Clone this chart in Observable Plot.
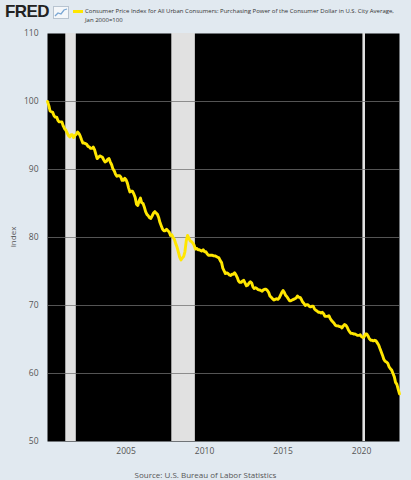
<!DOCTYPE html>
<html><head><meta charset="utf-8">
<script src="https://cdn.jsdelivr.net/npm/d3@7"></script>
<script src="https://cdn.jsdelivr.net/npm/@observablehq/plot@0.6"></script>
<style>
html,body{margin:0;padding:0;background:#e1e9f0;}
#wrap{position:relative;width:411px;height:480px;overflow:hidden;font-family:"Open Sans",sans-serif;background:#e1e9f0;}
#logo{position:absolute;left:5px;top:1px;font-family:"Liberation Sans",Arial,sans-serif;font-weight:900;font-size:17px;color:#222;letter-spacing:-0.6px;line-height:22px;}
#logo svg{position:absolute;left:48px;top:5px;}
#swatch{position:absolute;left:73px;top:10px;width:10px;height:3px;background:#ffe600;}
#legend{position:absolute;left:85px;top:6.5px;font-size:6px;line-height:9px;color:#333;white-space:nowrap;}
#chart{position:absolute;left:0;top:25px;}
#ylab{position:absolute;left:12px;top:237px;transform:translate(-50%,-50%) rotate(-90deg);font-size:8px;color:#555;}
#source{position:absolute;left:0;width:411px;top:469px;text-align:center;font-size:8px;color:#555;}
</style></head><body>
<div id="wrap">
  <div id="logo">FRED<svg width="16" height="13" viewBox="0 0 16 13"><rect x="0.5" y="0.5" width="15" height="12" fill="#f4f7fa" stroke="#b8c4d0"/><polyline points="2,10 5,7 8,8 11,4 14,3" fill="none" stroke="#7aa7d4" stroke-width="1.3"/></svg></div>
  <div id="swatch"></div>
  <div id="legend">Consumer Price Index for All Urban Consumers: Purchasing Power of the Consumer Dollar in U.S. City Average,<br>Jan 2000=100</div>
  <div id="chart"></div>
  <div id="ylab">Index</div>
  <div id="source">Source: U.S. Bureau of Labor Statistics</div>
</div>
<script>
// Monthly values, Jan 2000 through Jun 2022 (Index, Jan 2000 = 100)
const firstYear = 2000;
const purchasingPower = [
  100.0, 99.4, 98.6, 98.5, 98.4, 97.9, 97.7, 97.7, 97.2, 97.0, 97.0, 97.0,
  96.4, 96.0, 95.8, 95.4, 95.0, 94.8, 95.1, 95.1, 94.7, 95.0, 95.2, 95.5,
  95.3, 94.9, 94.4, 93.9, 93.9, 93.8, 93.7, 93.4, 93.3, 93.1, 93.1, 93.3,
  92.9, 92.2, 91.6, 91.8, 92.0, 91.9, 91.8, 91.4, 91.1, 91.2, 91.5, 91.6,
  91.1, 90.7, 90.1, 89.8, 89.3, 89.0, 89.1, 89.1, 88.9, 88.4, 88.4, 88.7,
  88.5, 88.0, 87.3, 86.7, 86.8, 86.8, 86.4, 85.9, 84.9, 84.7, 85.4, 85.8,
  85.1, 85.0, 84.5, 83.8, 83.4, 83.2, 82.9, 82.8, 83.2, 83.6, 83.8, 83.6,
  83.4, 82.9, 82.2, 81.7, 81.2, 81.0, 81.0, 81.2, 81.0, 80.8, 80.3, 80.4,
  80.0, 79.7, 79.1, 78.6, 77.9, 77.1, 76.7, 77.0, 77.2, 77.9, 79.5, 80.3,
  79.9, 79.5, 79.4, 79.2, 78.9, 78.3, 78.4, 78.2, 78.2, 78.1, 78.0, 78.2,
  77.9, 77.9, 77.6, 77.4, 77.4, 77.4, 77.4, 77.3, 77.3, 77.2, 77.1, 77.0,
  76.6, 76.3, 75.5, 75.1, 74.7, 74.8, 74.7, 74.5, 74.4, 74.6, 74.6, 74.8,
  74.5, 74.1, 73.6, 73.4, 73.4, 73.6, 73.7, 73.3, 72.9, 73.0, 73.3, 73.5,
  73.3, 72.7, 72.5, 72.6, 72.5, 72.3, 72.3, 72.2, 72.1, 72.3, 72.4, 72.4,
  72.2, 71.9, 71.4, 71.2, 71.0, 70.8, 70.9, 71.0, 70.9, 71.1, 71.5, 71.9,
  72.2, 71.9, 71.5, 71.3, 71.0, 70.7, 70.7, 70.8, 70.9, 71.0, 71.1, 71.4,
  71.2, 71.2, 70.9, 70.5, 70.3, 70.0, 70.1, 70.1, 69.9, 69.8, 69.9, 69.9,
  69.5, 69.3, 69.2, 69.0, 69.0, 68.9, 69.0, 68.8, 68.4, 68.4, 68.4, 68.5,
  68.1, 67.8, 67.6, 67.4, 67.1, 67.0, 67.0, 66.9, 66.9, 66.7, 67.0, 67.2,
  67.1, 66.8, 66.4, 66.1, 65.9, 65.9, 65.8, 65.8, 65.7, 65.6, 65.6, 65.7,
  65.4, 65.3, 65.4, 65.8, 65.8, 65.5, 65.1, 64.9, 64.9, 64.8, 64.9, 64.8,
  64.5, 64.2, 63.7, 63.2, 62.7, 62.1, 61.8, 61.7, 61.5, 61.0, 60.7, 60.5,
  60.0, 59.5, 58.7, 58.4, 57.7, 57.0
];
const recessionStart = ["2001-03-01", "2007-12-01", "2020-02-01"];
const recessionEnd   = ["2001-11-01", "2009-06-01", "2020-04-01"];
const yTicks = [50, 60, 70, 80, 90, 100, 110];
const xTickYears = [2005, 2010, 2015, 2020];

const data = purchasingPower.map((v, i) => ({date: new Date(Date.UTC(firstYear, i, 1)), value: v}));
const recessions = recessionStart.map((s, i) => ({start: new Date(s + "T00:00:00Z"), end: new Date(recessionEnd[i] + "T00:00:00Z")}));

const chart = Plot.plot({
  width: 411, height: 440,
  marginTop: 8, marginBottom: 24, marginLeft: 47, marginRight: 12,
  style: {background: "transparent", fontFamily: "Open Sans, sans-serif", fontSize: "8.5px", color: "#555"},
  x: {type: "utc", domain: [data[0].date, data[data.length - 1].date]},
  y: {domain: [yTicks[0], yTicks[yTicks.length - 1]]},
  marks: [
    Plot.frame({fill: "black", stroke: "none"}),
    Plot.rect(recessions, {x1: "start", x2: "end", fill: "#e1e1e1"}),
    Plot.ruleY(yTicks.slice(1, -1), {stroke: "#707070", strokeOpacity: 0.75, strokeWidth: 1}),
    Plot.line(data, {x: "date", y: "value", stroke: "#ffe600", strokeWidth: 2.9, strokeLinejoin: "round"}),
    Plot.axisX(xTickYears.map(y => new Date(Date.UTC(y, 0, 1))), {tickFormat: "%Y", tickSize: 0, tickPadding: 6, label: null}),
    Plot.axisY(yTicks, {tickSize: 0, tickPadding: 9, label: null})
  ]
});
document.getElementById("chart").appendChild(chart);
</script>
</body></html>
